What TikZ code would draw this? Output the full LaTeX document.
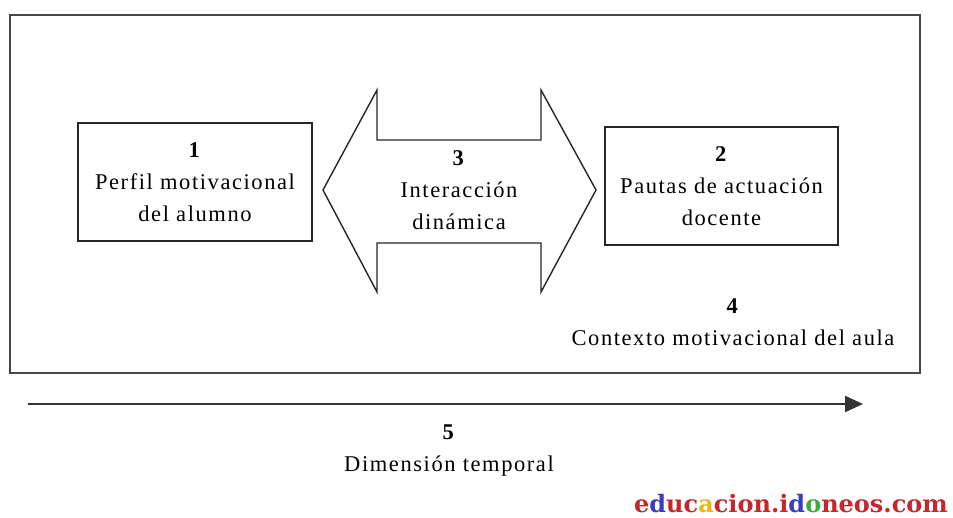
\documentclass[tikz,border=0pt]{standalone}
\usepackage{fontspec}
\setmainfont{Liberation Serif}[LetterSpace=7]
\newfontfamily\wmfont{DejaVu Serif}
\usetikzlibrary{arrows.meta}
\definecolor{frameg}{RGB}{70,70,70}
\definecolor{wred}{RGB}{196,40,45}
\definecolor{wblue}{RGB}{60,60,190}
\definecolor{wyel}{RGB}{235,180,30}
\definecolor{wgreen}{RGB}{60,170,60}
\tikzset{
  frame/.style={draw=frameg, line width=2pt, minimum width=910pt, minimum height=358pt, inner sep=0pt},
  box/.style={draw=black!85, line width=1.4pt, minimum width=234pt, minimum height=118pt, inner sep=0pt},
  txt/.style={align=center, font=\fontsize{22.5}{32}\selectfont, inner sep=0pt},
  dbl/.style={draw=black!85, line width=1.4pt, line join=miter},
  timeline/.style={draw=black!80, line width=2.2pt, -{Triangle[length=18pt,width=16pt]}},
}
\begin{document}
\begin{tikzpicture}[x=1pt,y=-1pt]
\useasboundingbox (0,0) rectangle (953,518);
\node[frame] (frame) at (465,194) {};
\node[box] (b1) at (195,182) {};
\node[txt] (t1) at (b1.center) {\textbf{1}\\Perfil motivacional\\del alumno};
\node[box, minimum width=233pt] (b2) at (721.5,186) {};
\node[txt] (t2) at (b2.center) {\textbf{2}\\Pautas de actuación\\docente};
\draw[dbl] (323,190) -- (377,90) -- (377,140) -- (541,140) -- (541,90) -- (596,190)
  -- (541,292) -- (541,243) -- (377,243) -- (377,292) -- cycle;
\node[txt] (t3) at (459,190) {\textbf{3}\\Interacción\\dinámica};
\node[txt] (t4) at (733,322) {\textbf{4}\\Contexto motivacional del aula};
\coordinate (ts) at (28,404);
\coordinate (te) at (863,404);
\draw[timeline] (ts) -- (te);
\node[txt] (t5) at (449,451) {\textbf{5}\\Dimensión temporal};
\node[inner sep=0pt, anchor=base, font=\wmfont\fontsize{24}{28}\selectfont\bfseries] (wm) at (791,512)
  {\textcolor{wred}{e}\textcolor{wblue}{d}\textcolor{wred}{uc}\textcolor{wyel}{a}\textcolor{wred}{cion.i}\textcolor{wblue}{d}\textcolor{wgreen}{o}\textcolor{wred}{neos.com}};
\end{tikzpicture}
\end{document}
